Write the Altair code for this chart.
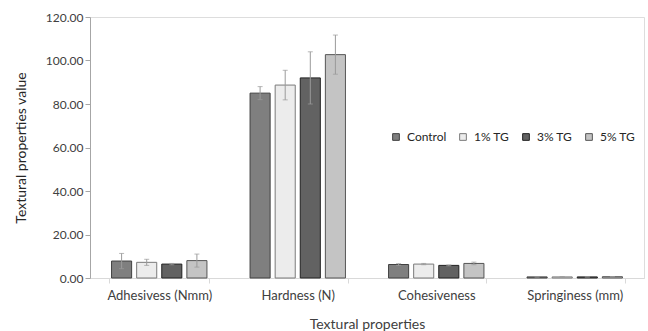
import altair as alt
import pandas as pd

categories = ["Adhesivess (Nmm)", "Hardness (N)", "Cohesiveness", "Springiness (mm)"]
groups = ["Control", "1% TG", "3% TG", "5% TG"]
control = [7.8, 85.0, 6.2, 0.5]
tg1 = [7.2, 88.7, 6.4, 0.5]
tg3 = [6.4, 92.0, 5.8, 0.5]
tg5 = [8.0, 102.7, 6.7, 0.6]
err_control = [3.5, 3.0, 0.4, 0.05]
err_tg1 = [1.4, 6.8, 0.3, 0.05]
err_tg3 = [0.3, 12.0, 0.2, 0.05]
err_tg5 = [3.0, 9.0, 0.6, 0.05]
y_ticks = [0, 20, 40, 60, 80, 100, 120]

rows = []
for g, vals, errs in zip(groups, [control, tg1, tg3, tg5],
                         [err_control, err_tg1, err_tg3, err_tg5]):
    for c, v, e in zip(categories, vals, errs):
        rows.append({"cat": c, "group": g, "value": v, "lo": v - e, "hi": v + e})
df = pd.DataFrame(rows)

fills = ["#7f7f7f", "#ececec", "#626262", "#c4c4c4"]
strokes = ["#404040", "#7a7a7a", "#222222", "#555555"]

font = "Lato"
x = alt.X("cat:N", sort=categories, title="Textural properties",
          scale=alt.Scale(paddingInner=0.275, paddingOuter=0.1375),
          axis=alt.Axis(labelAngle=0, tickBand="extent", domainColor="#d9d9d9",
                        tickColor="#d9d9d9", tickSize=5, labelColor="#404040",
                        labelFontSize=13, labelPadding=6, titleFontSize=14,
                        titleColor="#404040", titleFontWeight="normal", titlePadding=15,
                        labelFont=font, titleFont=font))
xo = alt.XOffset("group:N", sort=groups,
                 scale=alt.Scale(paddingInner=0.2, paddingOuter=0.1))

bars = alt.Chart(df).mark_bar(strokeWidth=1).encode(
    x=x, xOffset=xo,
    y=alt.Y("value:Q", title="Textural properties value",
            scale=alt.Scale(domain=[0, 120], nice=False),
            axis=alt.Axis(values=y_ticks, format=".2f", grid=False,
                          domainColor="#a6a6a6", tickColor="#a6a6a6", tickSize=5,
                          labelColor="#404040", labelFontSize=12, labelFont=font,
                          titleFont=font, titleFontSize=14, titleColor="#262626",
                          titleFontWeight="normal", titlePadding=17)),
    fill=alt.Fill("group:N", sort=groups, scale=alt.Scale(domain=groups, range=fills),
                  legend=alt.Legend(title=None, orient="none", direction="horizontal",
                                    legendX=300, legendY=114, symbolType="square",
                                    symbolSize=45, symbolStrokeWidth=1,
                                    labelFont=font, labelFontSize=12,
                                    labelColor="#262626", columnPadding=10,
                                    labelOffset=5)),
    stroke=alt.Stroke("group:N", sort=groups,
                      scale=alt.Scale(domain=groups, range=strokes), legend=None),
)

rule = alt.Chart(df).mark_rule(color="#9a9a9a", strokeWidth=1).encode(
    x=alt.X("cat:N", sort=categories), xOffset=xo, y="lo:Q", y2="hi:Q")
cap_hi = alt.Chart(df).mark_tick(color="#9a9a9a", size=5, thickness=1).encode(
    x=alt.X("cat:N", sort=categories), xOffset=xo, y="hi:Q")
cap_lo = alt.Chart(df).mark_tick(color="#9a9a9a", size=5, thickness=1).encode(
    x=alt.X("cat:N", sort=categories), xOffset=xo, y="lo:Q")

chart = alt.layer(bars, rule, cap_hi, cap_lo).properties(
    width=554, height=261,
    autosize=alt.AutoSizeParams(type="none"),
    padding={"left": 90, "top": 17, "right": 4, "bottom": 53},
).configure_view(stroke=None).configure(background="white")

chart.save("out.html", embed_options={"renderer": "svg", "actions": False})
